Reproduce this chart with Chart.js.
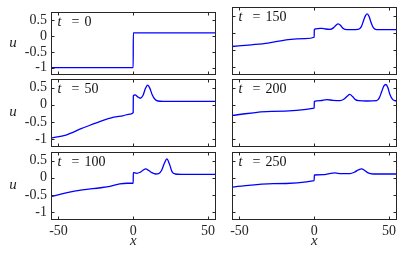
<!DOCTYPE html>
<html>
<head>
<meta charset="utf-8">
<script src="https://cdn.jsdelivr.net/npm/chart.js@4.4.0/dist/chart.umd.min.js"></script>
<style>
    html, body { margin: 0; padding: 0; background: #fff; }
    #wrap { position: relative; width: 415px; height: 253px; overflow: hidden; }
    canvas { position: absolute; left: 0; top: 0; }
</style>
</head>
<body>
<div id="wrap">
    <canvas id="p0" width="415" height="253"></canvas>
    <canvas id="p1" width="415" height="253"></canvas>
    <canvas id="p2" width="415" height="253"></canvas>
    <canvas id="p3" width="415" height="253"></canvas>
    <canvas id="p4" width="415" height="253"></canvas>
    <canvas id="p5" width="415" height="253"></canvas>
</div>
<script>
// tick values
const xTicks = [-50, 0, 50];
const uTicks = [-1, -0.5, 0, 0.5];

// t = 0
const x0 = [-55, -0.05, 0.05, 55];
const u0 = [-1, -1, 0.1, 0.1];

// t = 50
const x50 = [-55, -45, -34, -22, -13, -7, -2, -0.05, 0.05, 1.2, 3, 4.6, 6.5, 8.2, 9.7, 11.2, 12.6, 14.5, 16.5, 20, 30, 55];
const u50 = [-0.97, -0.88, -0.68, -0.48, -0.36, -0.32, -0.27, -0.23, 0.26, 0.29, 0.23, 0.19, 0.27, 0.48, 0.57, 0.47, 0.3, 0.16, 0.11, 0.1, 0.1, 0.1];

// t = 100
const x100 = [-55, -45, -34, -22, -15.6, -9, -4, -0.05, 0.05, 2.3, 4.6, 6.5, 8.4, 10.4, 12.4, 15, 17, 19, 20.8, 22.5, 24.2, 26, 28, 32, 55];
const u100 = [-0.55, -0.44, -0.35, -0.29, -0.25, -0.18, -0.16, -0.16, 0.15, 0.13, 0.16, 0.22, 0.26, 0.21, 0.15, 0.11, 0.12, 0.22, 0.42, 0.55, 0.4, 0.17, 0.11, 0.1, 0.1];

// t = 150
const x150 = [-55, -42, -31, -17.4, -6.2, -0.05, 0.05, 2.5, 4.9, 7.5, 10.5, 13, 14.5, 16, 17.5, 19, 20.5, 24, 29.4, 31.5, 33, 34.3, 35.4, 36.6, 38, 39.5, 41.7, 55];
const u150 = [-0.4, -0.35, -0.3, -0.2, -0.17, -0.13, 0.1, 0.12, 0.13, 0.11, 0.1, 0.15, 0.22, 0.26, 0.22, 0.14, 0.1, 0.09, 0.1, 0.18, 0.36, 0.5, 0.55, 0.48, 0.3, 0.15, 0.09, 0.09];

// t = 200
const x200 = [-55, -28.5, -0.05, 0.05, 4, 8.3, 12.5, 17.2, 20, 22, 23.8, 25.6, 27.5, 30, 35, 41.7, 43.5, 45, 46.6, 47.9, 49.2, 50.6, 52.5, 55];
const u200 = [-0.31, -0.19, -0.1, 0.1, 0.12, 0.15, 0.13, 0.12, 0.17, 0.25, 0.3, 0.24, 0.15, 0.12, 0.11, 0.12, 0.2, 0.37, 0.55, 0.59, 0.5, 0.3, 0.15, 0.11];

// t = 250
const x250 = [-55, -27.5, -0.05, 0.05, 6, 10, 13.8, 18, 23.8, 27.2, 29.5, 31.7, 33.8, 36, 39.4, 55];
const u250 = [-0.27, -0.17, -0.08, 0.08, 0.09, 0.12, 0.14, 0.12, 0.12, 0.17, 0.23, 0.26, 0.21, 0.14, 0.11, 0.11];

const axisColor = '#262626';
const serif = '"Liberation Serif", "Times New Roman", serif';

// panel placement (plot area edges in px)
const colLeft = [51, 232];
const colRight = [215.5, 396.5];
const rowTop = [7, 79, 152];
const rowBottom = [74, 146, 219];

const panels = [
    { id: 'p0', t: '0', xs: x0, us: u0, col: 0, row: 0 },
    { id: 'p1', t: '50', xs: x50, us: u50, col: 0, row: 1 },
    { id: 'p2', t: '100', xs: x100, us: u100, col: 0, row: 2 },
    { id: 'p3', t: '150', xs: x150, us: u150, col: 1, row: 0 },
    { id: 'p4', t: '200', xs: x200, us: u200, col: 1, row: 1 },
    { id: 'p5', t: '250', xs: x250, us: u250, col: 1, row: 2 }
];

// box, inward ticks, panel label and u label
const framePlugin = {
    id: 'frame',
    afterDatasetsDraw(chart, args, opts) {
        const { ctx, chartArea: a, scales: { x, y } } = chart;
        const L = Math.floor(a.left) + 0.5, R = Math.floor(a.right) + 0.5;
        const T = Math.floor(a.top) + 0.5, B = Math.floor(a.bottom) + 0.5;
        ctx.save();
        ctx.strokeStyle = axisColor;
        ctx.lineWidth = 1;
        ctx.strokeRect(L, T, R - L, B - T);
        ctx.beginPath();
        xTicks.forEach(v => {
            const px = Math.round(x.getPixelForValue(v)) + 0.5;
            ctx.moveTo(px, B); ctx.lineTo(px, B - 3);
            ctx.moveTo(px, T); ctx.lineTo(px, T + 3);
        });
        uTicks.forEach(v => {
            const py = Math.round(y.getPixelForValue(v)) + 0.5;
            ctx.moveTo(L, py); ctx.lineTo(L + 3, py);
            ctx.moveTo(R, py); ctx.lineTo(R - 3, py);
        });
        ctx.stroke();

        ctx.fillStyle = '#111';
        ctx.textBaseline = 'alphabetic';
        ctx.textAlign = 'left';
        ctx.font = 'italic 14px ' + serif;
        ctx.fillText('t', a.left + 6.5, a.top + 14);
        ctx.font = '14px ' + serif;
        ctx.textAlign = 'center';
        ctx.fillText('=', a.left + 24.5, a.top + 14);
        ctx.textAlign = 'left';
        ctx.fillText(opts.label, a.left + 33.5, a.top + 14);

        if (opts.yLabel) {
            ctx.font = 'italic 15px ' + serif;
            ctx.textAlign = 'center';
            ctx.textBaseline = 'middle';
            ctx.fillStyle = axisColor;
            ctx.fillText('u', 13, (a.top + a.bottom) / 2);
        }
        ctx.restore();
    }
};

panels.forEach(p => {
    const leftCol = p.col === 0;
    const bottomRow = p.row === 2;
    const points = p.xs.map((v, i) => ({ x: v, y: p.us[i] }));

    new Chart(document.getElementById(p.id).getContext('2d'), {
        type: 'line',
        data: {
            datasets: [{
                data: points,
                borderColor: '#0000ff',
                borderWidth: 1.3,
                pointRadius: 0,
                fill: false,
                cubicInterpolationMode: 'monotone'
            }]
        },
        plugins: [framePlugin],
        options: {
            responsive: false,
            animation: false,
            events: [],
            layout: {
                autoPadding: false,
                padding: {
                    left: leftCol ? 0 : colLeft[1] - 10,
                    right: 415 - colRight[p.col],
                    top: rowTop[p.row],
                    bottom: bottomRow ? 0 : 253 - rowBottom[p.row]
                }
            },
            plugins: {
                legend: { display: false },
                tooltip: { enabled: false },
                frame: { label: p.t, yLabel: leftCol }
            },
            scales: {
                x: {
                    type: 'linear',
                    min: -55,
                    max: 55,
                    afterBuildTicks: s => { s.ticks = xTicks.map(v => ({ value: v })); },
                    afterFit: s => { s.height = bottomRow ? 253 - rowBottom[2] : 0; },
                    grid: { display: false, drawTicks: false, tickLength: 0 },
                    border: { display: false },
                    ticks: {
                        display: bottomRow,
                        autoSkip: false,
                        maxRotation: 0,
                        padding: 4,
                        color: axisColor,
                        font: { family: serif, size: 14 },
                        callback: v => String(v)
                    },
                    title: {
                        display: bottomRow,
                        text: 'x',
                        color: axisColor,
                        font: { family: serif, size: 15, style: 'italic' },
                        padding: { top: 0, bottom: 3 }
                    }
                },
                y: {
                    min: -1.2,
                    max: 0.75,
                    afterBuildTicks: s => { s.ticks = uTicks.map(v => ({ value: v })); },
                    afterFit: s => { s.width = leftCol ? colLeft[0] : 10; },
                    grid: { display: false, drawTicks: false, tickLength: 0 },
                    border: { display: false },
                    ticks: {
                        display: leftCol,
                        autoSkip: false,
                        padding: 4,
                        color: axisColor,
                        font: { family: serif, size: 14 },
                        callback: v => String(v)
                    }
                }
            }
        }
    });
});
</script>
</body>
</html>
